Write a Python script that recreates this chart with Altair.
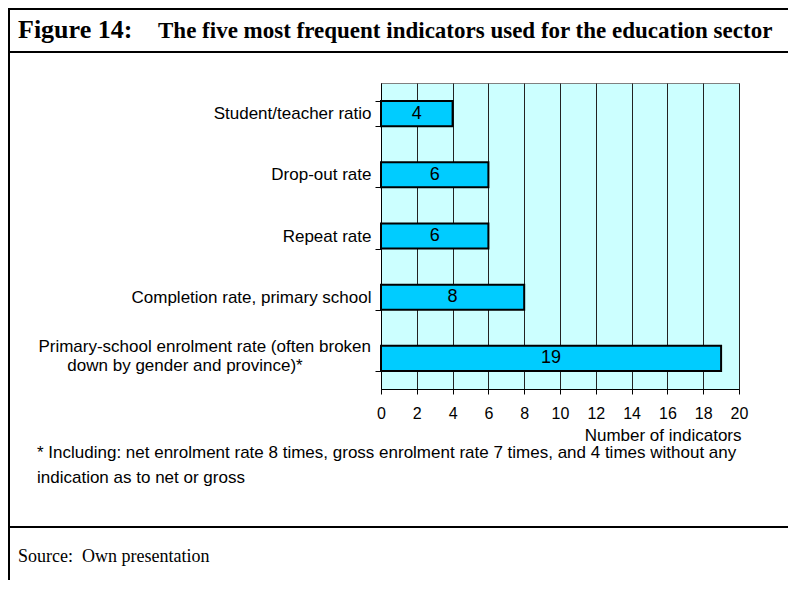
import altair as alt
import pandas as pd

# ---------------- data ----------------
categories = [
    "Student/teacher ratio",
    "Drop-out rate",
    "Repeat rate",
    "Completion rate, primary school",
    "Primary-school enrolment rate (often broken|down by gender and province)*",
]
values = [4, 6, 6, 8, 19]
x_ticks = [0, 2, 4, 6, 8, 10, 12, 14, 16, 18, 20]
x_title = "Number of indicators"
figure_label = "Figure 14:"
figure_title = "The five most frequent indicators used for the education sector"
footnote_lines = [
    "* Including: net enrolment rate 8 times, gross enrolment rate 7 times, and 4 times without any",
    "indication as to net or gross",
]
source_label = "Source:"
source_text = "Own presentation"

# ---------------- layout ----------------
W, H = 358, 306
PAD_L, PAD_T = 373, 75
TOTAL_W, TOTAL_H = 780, 572
LEFT = -PAD_L + 1
RIGHT = TOTAL_W - PAD_L
SANS = "Liberation Sans"
SERIF = "Liberation Serif"

df = pd.DataFrame({"indicator": categories, "count": values})

# single-line labels go on the axis; the wrapped label is drawn as two text
# lines (first right-aligned at the axis, second centred under it)
label_expr = "indexof(datum.label, '|') >= 0 ? '' : datum.label"
wrapped = pd.DataFrame(
    [{"indicator": c, "line1": c.split("|")[0], "line2": c.split("|")[1]}
     for c in categories if "|" in c]
)

y_axis = alt.Axis(
    tickBand="extent", tickSize=6, tickColor="black", domainColor="black",
    labelFont=SANS, labelFontSize=17, labelColor="black", labelPadding=4,
    labelLimit=600, labelExpr=label_expr, grid=False,
)
y_scale = alt.Scale(paddingInner=0.59, paddingOuter=0.295)

x_axis = alt.Axis(
    values=x_ticks, grid=True, gridColor="#222222", gridWidth=1,
    tickColor="black", tickSize=5, domainColor="black",
    labelFont=SANS, labelFontSize=16, labelColor="black", labelPadding=11,
    labelOverlap=False, labelFlush=False,
    title=x_title, titleFont=SANS, titleFontSize=17, titleFontWeight="normal",
    titleColor="black", titleX=W + 2, titleY=46, titleAlign="right",
    titleBaseline="middle",
)
x_scale = alt.Scale(domain=[0, 20], nice=False)

y_enc = alt.Y("indicator:N", sort=categories, title=None, scale=y_scale, axis=y_axis)

bars = alt.Chart(df).mark_bar(fill="#00CCFF", stroke="black", strokeWidth=2).encode(
    x=alt.X("count:Q", scale=x_scale, axis=x_axis),
    y=y_enc,
)

bar_labels = alt.Chart(df).transform_calculate(mid="datum.count / 2").mark_text(
    font=SANS, fontSize=18, color="black", baseline="middle", align="center"
).encode(
    x=alt.X("mid:Q", scale=x_scale, axis=x_axis),
    y=y_enc,
    text="count:Q",
)

wrap_line1 = alt.Chart(wrapped).mark_text(
    font=SANS, fontSize=17, color="black", baseline="middle", align="right", dy=-11
).encode(x=alt.value(-10), y=y_enc, text="line1:N")

wrap_line2 = alt.Chart(wrapped).mark_text(
    font=SANS, fontSize=17, color="black", baseline="middle", align="center", dy=8
).encode(x=alt.value(-196), y=y_enc, text="line2:N")

one = pd.DataFrame({"k": [0]})


def hline(y, w=2):
    return alt.Chart(one).mark_rule(color="black", strokeWidth=w).encode(
        x=alt.value(LEFT), x2=alt.value(RIGHT), y=alt.value(y)
    )


left_line = alt.Chart(one).mark_rule(color="black", strokeWidth=2).encode(
    x=alt.value(LEFT), y=alt.value(-PAD_T), y2=alt.value(TOTAL_H - PAD_T)
)


def text_layer(txt, x, y, font, size, weight="normal", baseline="alphabetic"):
    return alt.Chart(pd.DataFrame({"t": [txt]})).mark_text(
        font=font, fontSize=size, fontWeight=weight, color="black",
        align="left", baseline=baseline,
    ).encode(x=alt.value(x), y=alt.value(y), text="t:N")


layers = [
    bars,
    bar_labels,
    wrap_line1,
    wrap_line2,
    hline(-PAD_T + 1),
    hline(-31),
    hline(444),
    left_line,
    text_layer(figure_label, -363, -45, SERIF, 26, "bold"),
    text_layer(figure_title, -223, -45, SERIF, 23, "bold"),
    text_layer(footnote_lines[0], -344, 370, SANS, 17, baseline="middle"),
    text_layer(footnote_lines[1], -344, 395, SANS, 17, baseline="middle"),
    text_layer(source_label, -363, 474, SERIF, 18, baseline="middle"),
    text_layer(source_text, -299, 474, SERIF, 18, baseline="middle"),
]

chart = alt.layer(*layers).properties(
    width=W,
    height=H,
    padding={"left": PAD_L, "top": PAD_T, "right": TOTAL_W - PAD_L - W,
             "bottom": TOTAL_H - PAD_T - H},
    autosize=alt.AutoSizeParams(type="none"),
    background="white",
).configure_view(fill="#CCFFFF", stroke="#808080", strokeWidth=1)

chart.save("out.html", embed_options={"renderer": "svg", "actions": False})
